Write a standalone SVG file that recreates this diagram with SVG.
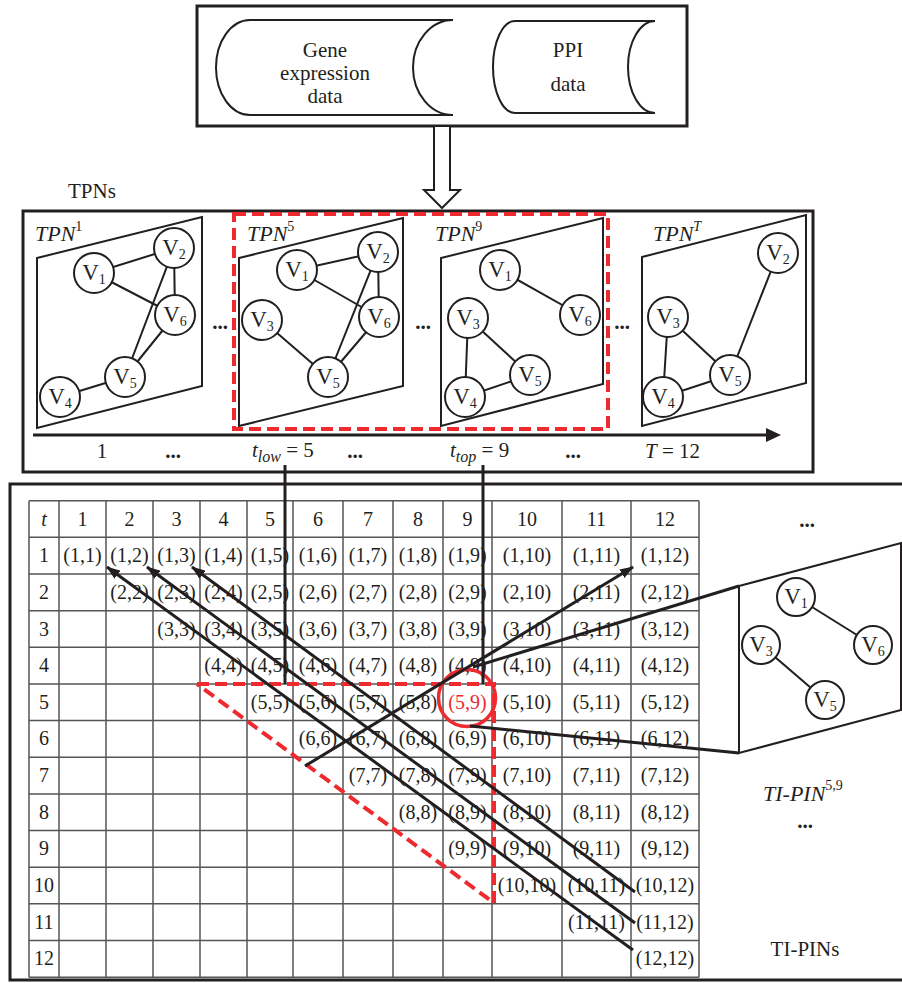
<svg xmlns="http://www.w3.org/2000/svg" width="902" height="983" viewBox="0 0 902 983">
<style>
text{font-family:"Liberation Serif","Times New Roman",serif;fill:#231f20}
.box{fill:none;stroke:#231f20;stroke-width:3}
.pg{fill:#fff;stroke:#231f20;stroke-width:2}
.nd{fill:#fff;stroke:#231f20;stroke-width:2}
.ed{stroke:#231f20;stroke-width:2;fill:none}
.vl{font-size:23px;text-anchor:middle}
.it{font-style:italic}
.lb{font-size:21px}
.tl{font-size:22px}
.dots{font-size:21px;font-weight:bold;text-anchor:middle}
.rd{fill:none;stroke:#ee2a2f;stroke-width:4;stroke-dasharray:12 6}
.grid{stroke:#555;stroke-width:1.5;fill:none}
.cell{font-size:20px;text-anchor:middle}
.ln{stroke:#231f20;stroke-width:3;fill:none}
</style>
<defs>
<marker id="ah" viewBox="0 0 14 10" refX="13" refY="5" markerWidth="14" markerHeight="10" orient="auto" markerUnits="userSpaceOnUse"><path d="M0,0 L14,5 L0,10 Z" fill="#231f20"/></marker>
</defs>
<rect width="902" height="983" fill="#fff"/>

<g id="input-box">
<rect class="box" x="197" y="6" width="490" height="120"/>
<g id="gene-expression">
<path d="M250,20 L453,20 A40,47.5 0 0,0 453,115 L250,115 A34,47.5 0 0,1 250,20 Z" fill="none" stroke="#231f20" stroke-width="2"/>
<text class="lb" x="325" y="57" text-anchor="middle">Gene</text>
<text class="lb" x="325" y="80" text-anchor="middle">expression</text>
<text class="lb" x="325" y="103" text-anchor="middle">data</text>
</g>
<g id="ppi">
<path d="M515,21 L655,21 A27,46 0 0,0 655,113 L515,113 A22,46 0 0,1 515,21 Z" fill="none" stroke="#231f20" stroke-width="2"/>
<text class="lb" x="568" y="57" text-anchor="middle">PPI</text>
<text class="lb" x="568" y="91" text-anchor="middle">data</text>
</g>
</g>

<text class="lb" x="68" y="198">TPNs</text>

<g id="tpns">
<rect class="box" x="23" y="211" width="790" height="261"/>
<g id="tpn1">
<polygon class="pg" points="37,258 202,217 202,386 37,428"/>
<path class="ed" d="M94,273 L174,248 M94,273 L175,315 M174,248 L175,315 M174,248 L125,377 M175,315 L125,377 M125,377 L60,397"/>
<circle class="nd" cx="94" cy="273" r="20"/><text class="vl" x="94" y="280">V<tspan font-size="14" dy="4">1</tspan></text>
<circle class="nd" cx="174" cy="248" r="20"/><text class="vl" x="174" y="255">V<tspan font-size="14" dy="4">2</tspan></text>
<circle class="nd" cx="175" cy="315" r="20"/><text class="vl" x="175" y="322">V<tspan font-size="14" dy="4">6</tspan></text>
<circle class="nd" cx="125" cy="377" r="20"/><text class="vl" x="125" y="384">V<tspan font-size="14" dy="4">5</tspan></text>
<circle class="nd" cx="60" cy="397" r="20"/><text class="vl" x="60" y="404">V<tspan font-size="14" dy="4">4</tspan></text>
<text class="tl it" x="35" y="241">TPN<tspan font-size="14" font-style="normal" dy="-10">1</tspan></text>
</g>
<g id="tpn5">
<polygon class="pg" points="239,258 403,218 403,386 239,426"/>
<path class="ed" d="M297,270 L378,252 M297,270 L379,317 M378,252 L379,317 M378,252 L328,377 M379,317 L328,377 M262,320 L328,377"/>
<circle class="nd" cx="297" cy="270" r="20"/><text class="vl" x="297" y="277">V<tspan font-size="14" dy="4">1</tspan></text>
<circle class="nd" cx="378" cy="252" r="20"/><text class="vl" x="378" y="259">V<tspan font-size="14" dy="4">2</tspan></text>
<circle class="nd" cx="379" cy="317" r="20"/><text class="vl" x="379" y="324">V<tspan font-size="14" dy="4">6</tspan></text>
<circle class="nd" cx="262" cy="320" r="20"/><text class="vl" x="262" y="327">V<tspan font-size="14" dy="4">3</tspan></text>
<circle class="nd" cx="328" cy="377" r="20"/><text class="vl" x="328" y="384">V<tspan font-size="14" dy="4">5</tspan></text>
<text class="tl it" x="247" y="241">TPN<tspan font-size="14" font-style="normal" dy="-10">5</tspan></text>
</g>
<g id="tpn9">
<polygon class="pg" points="441,258 603,218 603,384 441,426"/>
<path class="ed" d="M500,270 L580,315 M468,318 L465,397 M468,318 L530,375 M465,397 L530,375"/>
<circle class="nd" cx="500" cy="270" r="20"/><text class="vl" x="500" y="277">V<tspan font-size="14" dy="4">1</tspan></text>
<circle class="nd" cx="580" cy="315" r="20"/><text class="vl" x="580" y="322">V<tspan font-size="14" dy="4">6</tspan></text>
<circle class="nd" cx="468" cy="318" r="20"/><text class="vl" x="468" y="325">V<tspan font-size="14" dy="4">3</tspan></text>
<circle class="nd" cx="530" cy="375" r="20"/><text class="vl" x="530" y="382">V<tspan font-size="14" dy="4">5</tspan></text>
<circle class="nd" cx="465" cy="397" r="20"/><text class="vl" x="465" y="404">V<tspan font-size="14" dy="4">4</tspan></text>
<text class="tl it" x="435" y="241">TPN<tspan font-size="14" font-style="normal" dy="-10">9</tspan></text>
</g>
<g id="tpnT">
<polygon class="pg" points="642,257 806,215 806,383 642,426"/>
<path class="ed" d="M778,253 L730,375 M668,317 L663,397 M668,317 L730,375 M663,397 L730,375"/>
<circle class="nd" cx="778" cy="253" r="20"/><text class="vl" x="778" y="260">V<tspan font-size="14" dy="4">2</tspan></text>
<circle class="nd" cx="668" cy="317" r="20"/><text class="vl" x="668" y="324">V<tspan font-size="14" dy="4">3</tspan></text>
<circle class="nd" cx="730" cy="375" r="20"/><text class="vl" x="730" y="382">V<tspan font-size="14" dy="4">5</tspan></text>
<circle class="nd" cx="663" cy="397" r="20"/><text class="vl" x="663" y="404">V<tspan font-size="14" dy="4">4</tspan></text>
<text class="tl it" x="653" y="241">TPN<tspan font-size="14" dy="-10">T</tspan></text>
</g>
<text class="dots" x="220" y="329">...</text>
<text class="dots" x="423" y="329">...</text>
<text class="dots" x="622" y="329">...</text>
<rect class="rd" x="234" y="214" width="374" height="215"/>
<g id="timeline">
<line x1="33" y1="435" x2="768" y2="435" stroke="#231f20" stroke-width="3"/>
<polygon points="766,428 781,435 766,442" fill="#231f20"/>
<text class="lb" x="102" y="458" text-anchor="middle">1</text>
<text class="dots" x="173" y="458">...</text>
<text class="lb" x="252" y="457"><tspan class="it">t</tspan><tspan class="it" font-size="16" dy="5">low</tspan><tspan dy="-5"> = 5</tspan></text>
<text class="dots" x="355" y="458">...</text>
<text class="lb" x="450" y="457"><tspan class="it">t</tspan><tspan class="it" font-size="16" dy="5">top</tspan><tspan dy="-5"> = 9</tspan></text>
<text class="dots" x="573" y="458">...</text>
<text class="lb" x="645" y="458"><tspan class="it">T</tspan> = 12</text>
</g>
</g>

<g id="tipins">
<rect class="box" x="10" y="484" width="900" height="496"/>
<g id="table">
<path class="grid" d="M29,500.7H699 M29,537.35H699 M29,574H699 M29,610.65H699 M29,647.3H699 M29,683.95H699 M29,720.6H699 M29,757.25H699 M29,793.9H699 M29,830.55H699 M29,867.2H699 M29,903.85H699 M29,940.5H699 M29,977.15H699 M29,500.7V977.15 M59,500.7V977.15 M106,500.7V977.15 M153,500.7V977.15 M200,500.7V977.15 M247,500.7V977.15 M293,500.7V977.15 M343,500.7V977.15 M393,500.7V977.15 M443,500.7V977.15 M492,500.7V977.15 M562,500.7V977.15 M631,500.7V977.15 M699,500.7V977.15"/>
<g class="cell">
<text class="cell it" x="44" y="525.5">t</text>
<text class="cell" x="82.5" y="525.5">1</text><text class="cell" x="129.5" y="525.5">2</text><text class="cell" x="176.5" y="525.5">3</text><text class="cell" x="223.5" y="525.5">4</text><text class="cell" x="270" y="525.5">5</text><text class="cell" x="318" y="525.5">6</text><text class="cell" x="368" y="525.5">7</text><text class="cell" x="418" y="525.5">8</text><text class="cell" x="467.5" y="525.5">9</text><text class="cell" x="527" y="525.5">10</text><text class="cell" x="596.5" y="525.5">11</text><text class="cell" x="665" y="525.5">12</text>
<text class="cell" x="44" y="562.2">1</text><text class="cell" x="44" y="598.8">2</text><text class="cell" x="44" y="635.5">3</text><text class="cell" x="44" y="672.1">4</text><text class="cell" x="44" y="708.8">5</text><text class="cell" x="44" y="745.4">6</text><text class="cell" x="44" y="782.1">7</text><text class="cell" x="44" y="818.7">8</text><text class="cell" x="44" y="855.4">9</text><text class="cell" x="44" y="892">10</text><text class="cell" x="44" y="928.7">11</text><text class="cell" x="44" y="965.3">12</text>
<text class="cell" x="82.5" y="562.2">(1,1)</text><text class="cell" x="129.5" y="562.2">(1,2)</text><text class="cell" x="176.5" y="562.2">(1,3)</text><text class="cell" x="223.5" y="562.2">(1,4)</text><text class="cell" x="270" y="562.2">(1,5)</text><text class="cell" x="318" y="562.2">(1,6)</text><text class="cell" x="368" y="562.2">(1,7)</text><text class="cell" x="418" y="562.2">(1,8)</text><text class="cell" x="467.5" y="562.2">(1,9)</text><text class="cell" x="527" y="562.2">(1,10)</text><text class="cell" x="596.5" y="562.2">(1,11)</text><text class="cell" x="665" y="562.2">(1,12)</text>
<text class="cell" x="129.5" y="598.8">(2,2)</text><text class="cell" x="176.5" y="598.8">(2,3)</text><text class="cell" x="223.5" y="598.8">(2,4)</text><text class="cell" x="270" y="598.8">(2,5)</text><text class="cell" x="318" y="598.8">(2,6)</text><text class="cell" x="368" y="598.8">(2,7)</text><text class="cell" x="418" y="598.8">(2,8)</text><text class="cell" x="467.5" y="598.8">(2,9)</text><text class="cell" x="527" y="598.8">(2,10)</text><text class="cell" x="596.5" y="598.8">(2,11)</text><text class="cell" x="665" y="598.8">(2,12)</text>
<text class="cell" x="176.5" y="635.5">(3,3)</text><text class="cell" x="223.5" y="635.5">(3,4)</text><text class="cell" x="270" y="635.5">(3,5)</text><text class="cell" x="318" y="635.5">(3,6)</text><text class="cell" x="368" y="635.5">(3,7)</text><text class="cell" x="418" y="635.5">(3,8)</text><text class="cell" x="467.5" y="635.5">(3,9)</text><text class="cell" x="527" y="635.5">(3,10)</text><text class="cell" x="596.5" y="635.5">(3,11)</text><text class="cell" x="665" y="635.5">(3,12)</text>
<text class="cell" x="223.5" y="672.1">(4,4)</text><text class="cell" x="270" y="672.1">(4,5)</text><text class="cell" x="318" y="672.1">(4,6)</text><text class="cell" x="368" y="672.1">(4,7)</text><text class="cell" x="418" y="672.1">(4,8)</text><text class="cell" x="467.5" y="672.1">(4,9)</text><text class="cell" x="527" y="672.1">(4,10)</text><text class="cell" x="596.5" y="672.1">(4,11)</text><text class="cell" x="665" y="672.1">(4,12)</text>
<text class="cell" x="270" y="708.8">(5,5)</text><text class="cell" x="318" y="708.8">(5,6)</text><text class="cell" x="368" y="708.8">(5,7)</text><text class="cell" x="418" y="708.8">(5,8)</text><text class="cell" x="467.5" y="708.8" style="fill:#ee2a2f">(5,9)</text><text class="cell" x="527" y="708.8">(5,10)</text><text class="cell" x="596.5" y="708.8">(5,11)</text><text class="cell" x="665" y="708.8">(5,12)</text>
<text class="cell" x="318" y="745.4">(6,6)</text><text class="cell" x="368" y="745.4">(6,7)</text><text class="cell" x="418" y="745.4">(6,8)</text><text class="cell" x="467.5" y="745.4">(6,9)</text><text class="cell" x="527" y="745.4">(6,10)</text><text class="cell" x="596.5" y="745.4">(6,11)</text><text class="cell" x="665" y="745.4">(6,12)</text>
<text class="cell" x="368" y="782.1">(7,7)</text><text class="cell" x="418" y="782.1">(7,8)</text><text class="cell" x="467.5" y="782.1">(7,9)</text><text class="cell" x="527" y="782.1">(7,10)</text><text class="cell" x="596.5" y="782.1">(7,11)</text><text class="cell" x="665" y="782.1">(7,12)</text>
<text class="cell" x="418" y="818.7">(8,8)</text><text class="cell" x="467.5" y="818.7">(8,9)</text><text class="cell" x="527" y="818.7">(8,10)</text><text class="cell" x="596.5" y="818.7">(8,11)</text><text class="cell" x="665" y="818.7">(8,12)</text>
<text class="cell" x="467.5" y="855.4">(9,9)</text><text class="cell" x="527" y="855.4">(9,10)</text><text class="cell" x="596.5" y="855.4">(9,11)</text><text class="cell" x="665" y="855.4">(9,12)</text>
<text class="cell" x="527" y="892">(10,10)</text><text class="cell" x="596.5" y="892">(10,11)</text><text class="cell" x="665" y="892">(10,12)</text>
<text class="cell" x="596.5" y="928.7">(11,11)</text><text class="cell" x="665" y="928.7">(11,12)</text>
<text class="cell" x="665" y="965.3">(12,12)</text>
</g>
<path class="rd" d="M197,684 L494,684 L494,903 L197,684"/>
<circle cx="467" cy="698" r="28.5" fill="none" stroke="#ee2a2f" stroke-width="3.5"/>
</g>
<g id="ti-pin-5-9">
<polygon class="pg" points="739,586 901,543 901,710 739,753"/>
<path class="ed" d="M796,597 L873,645 M761,645 L825,700"/>
<circle class="nd" cx="796" cy="597" r="19"/><text class="vl" x="796" y="604">V<tspan font-size="14" dy="4">1</tspan></text>
<circle class="nd" cx="873" cy="645" r="19"/><text class="vl" x="873" y="652">V<tspan font-size="14" dy="4">6</tspan></text>
<circle class="nd" cx="761" cy="645" r="19"/><text class="vl" x="761" y="652">V<tspan font-size="14" dy="4">3</tspan></text>
<circle class="nd" cx="825" cy="700" r="19"/><text class="vl" x="825" y="707">V<tspan font-size="14" dy="4">5</tspan></text>
<text class="tl it" x="763" y="801">TI-PIN<tspan font-size="14" font-style="normal" dy="-11">5,9</tspan></text>
</g>
<text class="dots" x="807" y="527">...</text>
<text class="dots" x="805" y="828">...</text>
<text class="lb" x="805" y="956" text-anchor="middle">TI-PINs</text>
</g>

<g id="connectors">
<polygon points="434,126 450,126 450,190 460,190 442,208 424,190 434,190" fill="#fff" stroke="#231f20" stroke-width="2"/>
<line class="ln" x1="285" y1="465" x2="285" y2="684"/>
<line class="ln" x1="483" y1="465" x2="483" y2="684"/>
<line class="ln" x1="633" y1="950" x2="107" y2="567" marker-end="url(#ah)"/>
<line class="ln" x1="635" y1="923" x2="147" y2="567" marker-end="url(#ah)"/>
<line class="ln" x1="635" y1="892" x2="192" y2="567" marker-end="url(#ah)"/>
<line class="ln" x1="305" y1="766" x2="633" y2="567" marker-end="url(#ah)"/>
<line class="ln" x1="473" y1="667" x2="739" y2="586"/>
<line class="ln" x1="470" y1="726" x2="739" y2="753"/>
</g>
</svg>
